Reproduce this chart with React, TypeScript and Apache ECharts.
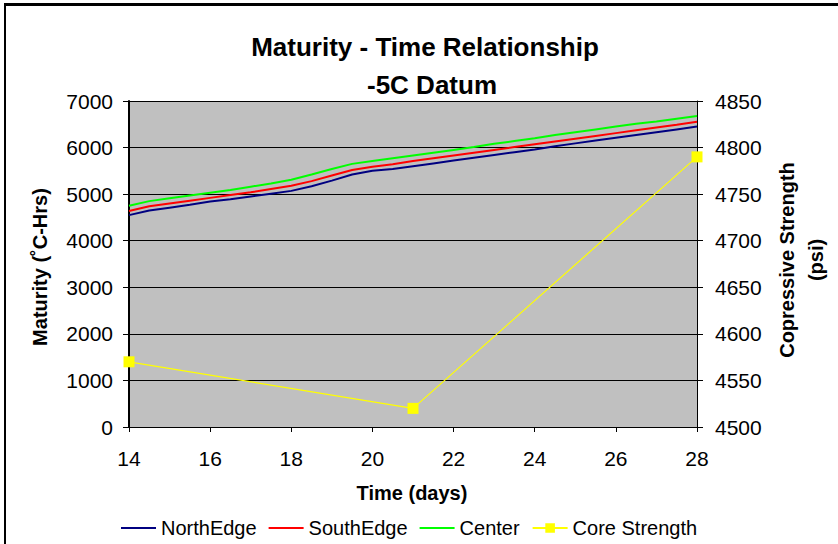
import React, { useEffect, useRef } from "react";
import * as echarts from "echarts";

const days = [14, 14.5, 15, 15.5, 16, 16.5, 17, 17.5, 18, 18.5, 19, 19.5, 20, 20.5, 21, 21.5, 22, 22.5, 23, 23.5, 24, 24.5, 25, 25.5, 26, 26.5, 27, 27.5, 28];
const northEdge = [4550, 4650, 4710, 4770, 4840, 4890, 4950, 5010, 5070, 5170, 5290, 5420, 5500, 5540, 5600, 5660, 5720, 5780, 5840, 5900, 5960, 6030, 6090, 6150, 6210, 6270, 6330, 6390, 6450];
const southEdge = [4640, 4740, 4800, 4860, 4920, 4980, 5040, 5110, 5180, 5280, 5400, 5520, 5590, 5640, 5710, 5770, 5830, 5890, 5950, 6010, 6070, 6130, 6190, 6250, 6310, 6370, 6430, 6490, 6555];
const center = [4750, 4850, 4910, 4970, 5030, 5090, 5160, 5230, 5310, 5420, 5540, 5650, 5710, 5770, 5830, 5890, 5950, 6010, 6080, 6140, 6200, 6270, 6330, 6390, 6450, 6510, 6560, 6620, 6680];
const coreDays = [14, 21, 28];
const coreStrength = [4570, 4520, 4790];

const FONT = "'Liberation Sans', Arial, sans-serif";
const LINE_ICON = "path://M0,0H35V2H0Z";

export default function App() {
  const ref = useRef<HTMLDivElement>(null);
  useEffect(() => {
    if (!ref.current) return;
    const chart = echarts.init(ref.current, undefined, { renderer: "svg" });
    const pair = (xs: number[], ys: number[]) => xs.map((x, i) => [x, ys[i]]);
    const plain = (v: number) => String(v);
    chart.setOption({
      animation: false,
      backgroundColor: "#ffffff",
      textStyle: { fontFamily: FONT, color: "#000" },
      grid: {
        left: 129,
        right: 141,
        top: 101,
        bottom: 117,
        show: true,
        backgroundColor: "#C0C0C0",
        borderWidth: 0,
      },
      graphic: [
        { type: "rect", shape: { x: 4, y: 3, width: 834, height: 3 }, style: { fill: "#000" } },
        { type: "rect", shape: { x: 4, y: 3, width: 2, height: 541 }, style: { fill: "#000" } },
        {
          type: "text",
          x: 425,
          y: 47,
          style: { text: "Maturity - Time Relationship", font: `bold 26px ${FONT}`, fill: "#000", textAlign: "center", textVerticalAlign: "middle" },
        },
        {
          type: "text",
          x: 432,
          y: 85,
          style: { text: "-5C Datum", font: `bold 26px ${FONT}`, fill: "#000", textAlign: "center", textVerticalAlign: "middle" },
        },
        {
          type: "text",
          x: 40,
          y: 267,
          rotation: Math.PI / 2,
          style: { text: "Maturity (˚C-Hrs)", font: `bold 20px ${FONT}`, fill: "#000", textAlign: "center", textVerticalAlign: "middle" },
        },
        {
          type: "text",
          x: 787,
          y: 260,
          rotation: Math.PI / 2,
          style: { text: "Copressive Strength", font: `bold 20px ${FONT}`, fill: "#000", textAlign: "center", textVerticalAlign: "middle" },
        },
        {
          type: "text",
          x: 816,
          y: 260,
          rotation: Math.PI / 2,
          style: { text: "(psi)", font: `bold 20px ${FONT}`, fill: "#000", textAlign: "center", textVerticalAlign: "middle" },
        },
        {
          type: "text",
          x: 412,
          y: 493,
          style: { text: "Time (days)", font: `bold 20px ${FONT}`, fill: "#000", textAlign: "center", textVerticalAlign: "middle" },
        },
      ],
      legend: {
        top: 513,
        left: 116,
        itemWidth: 35,
        itemHeight: 12,
        itemGap: 12,
        textStyle: { fontSize: 20, fontFamily: FONT, color: "#000" },
        data: [
          { name: "NorthEdge", icon: LINE_ICON },
          { name: "SouthEdge", icon: LINE_ICON },
          { name: "Center", icon: LINE_ICON },
          { name: "Core Strength" },
        ],
      },
      xAxis: {
        type: "value",
        min: 14,
        max: 28,
        interval: 2,
        axisLine: { show: true, onZero: false, lineStyle: { color: "#000", width: 1 } },
        axisTick: { show: true, inside: false, length: 5, lineStyle: { color: "#000" } },
        axisLabel: { fontSize: 21, color: "#000", margin: 21, fontFamily: FONT, formatter: plain },
        splitLine: { show: false },
      },
      yAxis: [
        {
          type: "value",
          min: 0,
          max: 7000,
          interval: 1000,
          axisLine: { show: true, lineStyle: { color: "#000", width: 2 } },
          axisTick: { show: true, length: 6, lineStyle: { color: "#000" } },
          axisLabel: { fontSize: 21, color: "#000", margin: 16, fontFamily: FONT, formatter: plain },
          splitLine: { show: true, lineStyle: { color: "#000", width: 1 } },
        },
        {
          type: "value",
          position: "right",
          min: 4500,
          max: 4850,
          interval: 50,
          axisLine: { show: true, lineStyle: { color: "#000", width: 1 } },
          axisTick: { show: true, length: 6, lineStyle: { color: "#000" } },
          axisLabel: { fontSize: 21, color: "#000", margin: 18, fontFamily: FONT, formatter: plain },
          splitLine: { show: false },
        },
      ],
      series: [
        {
          name: "NorthEdge",
          type: "line",
          yAxisIndex: 0,
          symbol: "none",
          data: pair(days, northEdge),
          lineStyle: { color: "#000080", width: 2 },
          itemStyle: { color: "#000080" },
        },
        {
          name: "SouthEdge",
          type: "line",
          yAxisIndex: 0,
          symbol: "none",
          data: pair(days, southEdge),
          lineStyle: { color: "#FF0000", width: 2 },
          itemStyle: { color: "#FF0000" },
        },
        {
          name: "Center",
          type: "line",
          yAxisIndex: 0,
          symbol: "none",
          data: pair(days, center),
          lineStyle: { color: "#00FF00", width: 2 },
          itemStyle: { color: "#00FF00" },
        },
        {
          name: "Core Strength",
          type: "line",
          yAxisIndex: 1,
          symbol: "rect",
          symbolSize: 11,
          data: pair(coreDays, coreStrength),
          lineStyle: { color: "#FFFF00", width: 1.2 },
          itemStyle: { color: "#FFFF00" },
        },
      ],
    });
    return () => chart.dispose();
  }, []);
  return <div ref={ref} style={{ position: "fixed", left: 0, top: 0, width: 838, height: 544 }} />;
}
